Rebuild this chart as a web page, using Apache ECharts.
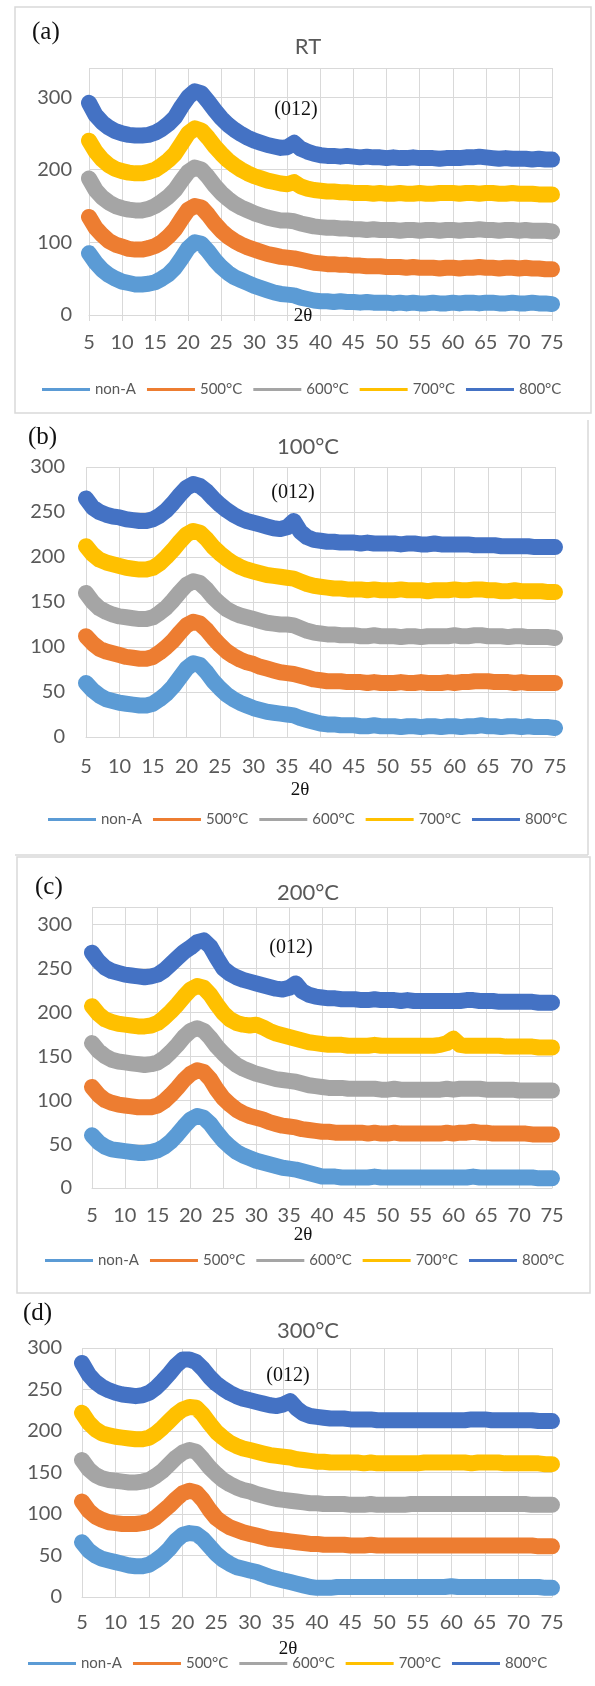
<!DOCTYPE html>
<html>
<head>
<meta charset="utf-8">
<script src="https://cdn.jsdelivr.net/npm/echarts@6/dist/echarts.min.js"></script>
<style>
  html, body { margin: 0; padding: 0; background: #ffffff; }
  #chart { width: 595px; height: 1686px; }
</style>
</head>
<body>
<div id="chart"></div>
<script>
// 2θ positions
const twoTheta = [5, 6, 7, 8, 9, 10, 11, 12, 13, 14, 15, 16, 17, 18, 19, 20, 21, 22, 23, 24, 25, 26, 27, 28, 29, 30,
  31, 32, 33, 34, 35, 36, 37, 38, 39, 40, 41, 42, 43, 44, 45, 46, 47, 48, 49, 50, 51, 52, 53, 54, 55,
  56, 57, 58, 59, 60, 61, 62, 63, 64, 65, 66, 67, 68, 69, 70, 71, 72, 73, 74, 75];

const seriesNames = ['non-A', '500°C', '600°C', '700°C', '800°C'];
const panelTitles = ['RT', '100°C', '200°C', '300°C'];
const panelLetters = ['(a)', '(b)', '(c)', '(d)'];
const yMaxes = [340, 300, 320, 300];
const yIntervals = [100, 50, 50, 50];

// (a) RT
const rtNonA = [85, 72, 62, 55, 50, 46, 44, 42, 42, 43, 45, 50, 56, 65, 78, 92, 100, 98, 88, 76, 66, 58, 52, 48, 44, 40,
  37, 34, 31, 29, 28, 27, 24, 22, 20, 19, 19, 18, 19, 18, 18, 17, 18, 17, 17, 17, 16, 17, 16, 17, 16,
  16, 17, 16, 16, 17, 16, 17, 17, 16, 17, 17, 16, 16, 17, 16, 16, 17, 16, 16, 15];
const rt500 = [135, 120, 110, 102, 97, 94, 91, 90, 90, 92, 95, 100, 108, 118, 132, 145, 150, 148, 138, 126, 116, 108, 102, 97, 93, 90,
  87, 84, 82, 80, 79, 78, 76, 74, 72, 71, 70, 70, 69, 69, 68, 68, 67, 67, 67, 66, 66, 66, 65, 66, 65,
  65, 65, 64, 65, 65, 64, 65, 65, 66, 65, 65, 64, 65, 65, 64, 65, 64, 64, 63, 63];
const rt600 = [188, 172, 162, 155, 150, 147, 145, 144, 144, 146, 150, 156, 163, 172, 185, 197, 203, 200, 190, 178, 168, 160, 153, 148, 144, 140,
  137, 134, 132, 130, 130, 129, 126, 124, 122, 121, 120, 120, 119, 119, 118, 118, 117, 118, 117, 117, 117, 116, 117, 117, 116,
  117, 117, 116, 117, 117, 116, 117, 117, 118, 117, 117, 116, 117, 117, 116, 117, 116, 116, 116, 115];
const rt700 = [240, 225, 214, 206, 201, 198, 196, 195, 195, 197, 200, 206, 213, 222, 236, 250, 257, 254, 244, 232, 222, 213, 206, 200, 195, 191,
  188, 185, 183, 181, 180, 183, 177, 174, 172, 171, 170, 170, 169, 169, 168, 168, 168, 167, 168, 167, 167, 168, 167, 167, 168,
  167, 167, 168, 168, 168, 167, 168, 168, 167, 168, 168, 167, 167, 168, 167, 167, 167, 166, 166, 166];
const rt800 = [292, 275, 265, 258, 253, 250, 248, 247, 247, 248, 251, 256, 263, 272, 287, 300, 308, 305, 294, 282, 271, 262, 255, 249, 244, 240,
  237, 234, 232, 230, 231, 237, 229, 225, 222, 220, 219, 219, 218, 219, 218, 217, 218, 217, 217, 216, 217, 216, 216, 217, 216,
  216, 216, 215, 216, 216, 216, 217, 217, 218, 217, 216, 215, 216, 215, 215, 215, 214, 215, 214, 214];

// (b) 100°C
const t100NonA = [60, 52, 46, 42, 40, 38, 37, 36, 35, 35, 37, 42, 48, 56, 66, 76, 82, 80, 72, 62, 54, 47, 42, 38, 35, 32,
  30, 28, 27, 26, 25, 24, 21, 19, 17, 15, 14, 14, 13, 13, 13, 12, 12, 13, 12, 12, 12, 11, 12, 12, 11,
  12, 12, 11, 12, 12, 11, 12, 12, 13, 12, 12, 11, 12, 12, 11, 12, 11, 11, 11, 10];
const t100_500 = [112, 104, 98, 95, 93, 91, 89, 88, 87, 87, 89, 94, 100, 107, 116, 124, 128, 126, 119, 110, 102, 95, 90, 86, 83, 81,
  78, 76, 74, 72, 71, 70, 68, 66, 64, 63, 62, 62, 62, 61, 61, 61, 60, 61, 60, 60, 60, 61, 60, 60, 61,
  60, 60, 60, 61, 60, 61, 61, 62, 62, 62, 61, 61, 61, 60, 61, 60, 60, 60, 60, 60];
const t100_600 = [160, 150, 143, 139, 136, 134, 133, 132, 131, 131, 133, 138, 144, 152, 161, 169, 173, 171, 164, 155, 148, 142, 138, 135, 133, 131,
  129, 127, 126, 125, 125, 124, 121, 118, 116, 115, 114, 114, 113, 113, 113, 112, 112, 113, 112, 112, 112, 111, 112, 112, 111,
  112, 112, 112, 112, 113, 112, 112, 113, 113, 112, 112, 112, 111, 112, 112, 111, 111, 111, 111, 110];
const t100_700 = [212, 203, 197, 194, 192, 190, 188, 187, 186, 186, 188, 193, 200, 208, 217, 225, 229, 227, 220, 211, 204, 198, 193, 189, 186, 184,
  182, 180, 179, 178, 177, 176, 173, 170, 168, 167, 166, 165, 165, 164, 164, 164, 163, 164, 163, 163, 163, 164, 163, 163, 163,
  162, 163, 163, 163, 164, 163, 163, 164, 164, 163, 163, 162, 162, 163, 162, 162, 162, 162, 161, 161];
const t100_800 = [265, 255, 250, 247, 245, 244, 242, 241, 240, 240, 242, 246, 252, 260, 269, 277, 281, 279, 273, 265, 258, 252, 247, 243, 240, 238,
  236, 234, 232, 231, 233, 240, 228, 222, 219, 218, 217, 217, 216, 216, 216, 215, 216, 215, 215, 215, 215, 214, 215, 215, 214,
  214, 215, 214, 214, 214, 214, 214, 213, 213, 213, 213, 212, 212, 212, 212, 212, 211, 211, 211, 211];

// (c) 200°C
const t200NonA = [60, 52, 47, 44, 43, 42, 41, 40, 40, 41, 43, 47, 53, 61, 70, 78, 82, 80, 73, 63, 54, 47, 41, 37, 34, 31,
  29, 27, 25, 23, 22, 21, 19, 17, 15, 13, 13, 13, 12, 12, 12, 12, 12, 13, 12, 12, 12, 12, 12, 12, 12,
  12, 12, 12, 12, 12, 12, 12, 13, 12, 12, 12, 12, 12, 12, 12, 12, 12, 11, 11, 11];
const t200_500 = [115, 106, 100, 97, 95, 94, 93, 92, 92, 92, 94, 99, 106, 114, 123, 130, 134, 132, 124, 112, 102, 95, 89, 85, 82, 80,
  78, 75, 73, 71, 70, 69, 67, 66, 65, 64, 64, 63, 63, 63, 63, 63, 62, 63, 62, 62, 63, 62, 62, 62, 62,
  62, 62, 62, 63, 62, 63, 63, 64, 63, 63, 62, 62, 62, 62, 62, 62, 61, 61, 61, 61];
const t200_600 = [165, 156, 150, 146, 144, 143, 142, 141, 140, 141, 143, 148, 155, 163, 172, 179, 182, 179, 171, 161, 153, 146, 140, 136, 133, 130,
  128, 126, 124, 123, 122, 121, 119, 117, 116, 115, 114, 114, 114, 113, 113, 113, 113, 113, 112, 112, 113, 112, 112, 112, 112,
  112, 112, 112, 113, 112, 113, 113, 113, 113, 112, 112, 112, 112, 112, 111, 111, 111, 111, 111, 111];
const t200_700 = [207, 198, 192, 189, 187, 186, 185, 184, 184, 185, 188, 194, 201, 209, 218, 226, 230, 228, 220, 209, 199, 192, 188, 186, 185, 186,
  183, 179, 176, 174, 172, 170, 168, 166, 165, 164, 163, 163, 163, 162, 162, 162, 162, 163, 162, 162, 162, 162, 162, 162, 162,
  162, 162, 163, 165, 170, 163, 162, 162, 162, 162, 162, 162, 161, 161, 161, 161, 161, 160, 160, 160];
const t200_800 = [268, 258, 251, 247, 245, 243, 242, 241, 240, 241, 243, 248, 255, 262, 269, 274, 280, 282, 275, 262, 250, 244, 240, 237, 235, 233,
  231, 229, 227, 226, 228, 233, 224, 220, 218, 217, 216, 216, 215, 215, 215, 214, 214, 215, 214, 214, 214, 213, 214, 213, 213,
  213, 213, 213, 213, 213, 213, 214, 214, 213, 213, 213, 212, 212, 212, 212, 212, 212, 211, 211, 211];

// (d) 300°C
const t300NonA = [66, 56, 50, 46, 44, 42, 40, 38, 37, 37, 39, 44, 50, 58, 68, 75, 77, 76, 70, 61, 52, 45, 40, 36, 34, 32,
  30, 27, 24, 22, 20, 18, 16, 14, 12, 11, 11, 11, 12, 12, 12, 12, 12, 12, 12, 12, 12, 12, 12, 12, 12,
  12, 12, 12, 12, 13, 12, 12, 12, 12, 12, 12, 12, 12, 12, 12, 12, 12, 12, 11, 11];
const t300_500 = [115, 104, 97, 93, 90, 89, 88, 88, 88, 89, 91, 96, 103, 110, 118, 125, 128, 126, 117, 105, 95, 89, 84, 81, 78, 76,
  74, 72, 70, 69, 68, 67, 66, 65, 64, 64, 63, 63, 63, 63, 62, 62, 62, 63, 62, 62, 62, 62, 62, 62, 62,
  62, 62, 62, 62, 62, 62, 62, 62, 62, 62, 62, 62, 62, 62, 62, 62, 62, 61, 61, 61];
const t300_600 = [165, 154, 147, 143, 141, 140, 139, 138, 138, 139, 141, 146, 152, 160, 168, 174, 177, 175, 166, 156, 148, 141, 136, 132, 129, 127,
  124, 122, 120, 118, 117, 116, 115, 114, 113, 113, 112, 112, 112, 112, 111, 111, 111, 112, 111, 111, 111, 111, 111, 112, 112,
  112, 112, 112, 112, 112, 112, 112, 112, 112, 112, 112, 112, 112, 112, 112, 112, 111, 111, 111, 111];
const t300_700 = [222, 210, 202, 197, 195, 193, 192, 191, 190, 190, 192, 197, 204, 212, 220, 226, 229, 228, 220, 209, 199, 192, 186, 182, 179, 177,
  175, 173, 171, 170, 169, 168, 166, 165, 164, 163, 163, 162, 162, 162, 162, 162, 161, 162, 161, 161, 161, 161, 161, 161, 161,
  162, 162, 162, 162, 162, 162, 162, 161, 162, 162, 162, 162, 161, 161, 161, 161, 161, 161, 160, 160];
const t300_800 = [282, 268, 259, 253, 249, 246, 244, 243, 242, 243, 246, 252, 260, 269, 279, 286, 286, 283, 275, 265, 257, 251, 246, 242, 239, 237,
  235, 233, 231, 230, 232, 236, 227, 221, 218, 217, 216, 215, 215, 215, 214, 214, 214, 214, 213, 213, 213, 213, 213, 213, 213,
  213, 213, 213, 213, 213, 213, 213, 214, 214, 214, 213, 213, 213, 213, 213, 213, 213, 212, 212, 212];

const panelData = [
  [rtNonA, rt500, rt600, rt700, rt800],
  [t100NonA, t100_500, t100_600, t100_700, t100_800],
  [t200NonA, t200_500, t200_600, t200_700, t200_800],
  [t300NonA, t300_500, t300_600, t300_700, t300_800],
];

const colors = ['#5B9BD5', '#ED7D31', '#A5A5A5', '#FFC000', '#4472C4'];
const gridColor = '#D9D9D9';
const labelColor = '#595959';
const sansFont = 'Lato, "Open Sans", sans-serif';
const serifFont = '"Liberation Serif", "DejaVu Serif", serif';

// 每个面板的位置
const grids = [
  { left: 89, top: 68, width: 463, height: 247 },
  { left: 86, top: 467, width: 469, height: 270 },
  { left: 92, top: 907, width: 460, height: 281 },
  { left: 82, top: 1348, width: 470, height: 249 },
];
const xLabelMargins = [18, 20, 18, 16];
const yLabelMargins = [17, 21, 20, 20];
const titleCenters = [47, 447, 893, 1331];
const letterPos = [[32, 32], [28, 437], [35, 887], [23, 1313]];
const peakLabelPos = [[296, 110], [293, 493], [291, 948], [288, 1376]];
const thetaLabelPos = [[303, 316], [300, 790], [303, 1235], [288, 1649]];
const legendPos = [[37, 390], [43, 820], [40, 1261], [23, 1664]];

const chart = echarts.init(document.getElementById('chart'));

const option = {
  backgroundColor: '#ffffff',
  animation: false,
  color: colors,
  title: panelTitles.map((t, i) => ({
    text: t,
    left: 303,
    top: titleCenters[i] - 16,
    textAlign: 'center',
    textStyle: { color: labelColor, fontFamily: sansFont, fontSize: 22, fontWeight: 'normal' },
  })),
  grid: grids,
  legend: legendPos.map((p) => ({
    data: seriesNames,
    left: p[0],
    top: p[1] - 13,
    width: 570,
    icon: 'rect',
    itemWidth: 48,
    itemHeight: 3,
    itemGap: 11,
    textStyle: { color: labelColor, fontFamily: sansFont, fontSize: 15 },
  })),
  xAxis: grids.map((g, i) => ({
    type: 'value',
    gridIndex: i,
    min: 5,
    max: 75,
    interval: 5,
    axisLine: { show: true, lineStyle: { color: gridColor } },
    axisTick: { show: i === 0, length: 6, lineStyle: { color: gridColor } },
    axisLabel: { color: labelColor, fontFamily: sansFont, fontSize: 20, margin: xLabelMargins[i] },
    splitLine: { show: true, lineStyle: { color: gridColor } },
  })),
  yAxis: grids.map((g, i) => ({
    type: 'value',
    gridIndex: i,
    min: 0,
    max: yMaxes[i],
    interval: yIntervals[i],
    axisLine: { show: false },
    axisTick: { show: false },
    axisLabel: {
      color: labelColor,
      fontFamily: sansFont,
      fontSize: 20,
      margin: yLabelMargins[i],
      showMaxLabel: yMaxes[i] % yIntervals[i] === 0,
    },
    splitLine: { show: true, lineStyle: { color: gridColor } },
  })),
  series: [],
  graphic: [],
};

panelData.forEach((group, p) => {
  group.forEach((vals, k) => {
    option.series.push({
      name: seriesNames[k],
      type: 'line',
      xAxisIndex: p,
      yAxisIndex: p,
      showSymbol: false,
      data: twoTheta.map((x, j) => [x, vals[j]]),
      lineStyle: { color: colors[k], width: 16, cap: 'round', join: 'round' },
      itemStyle: { color: colors[k] },
    });
  });
});

// 面板边框
option.graphic.push(
  { type: 'rect', shape: { x: 15, y: 7, width: 576, height: 406 }, style: { fill: 'none', stroke: gridColor, lineWidth: 1.5 } },
  { type: 'line', shape: { x1: 588, y1: 420, x2: 588, y2: 855 }, style: { stroke: gridColor, lineWidth: 1.5 } },
  { type: 'line', shape: { x1: 15, y1: 855, x2: 588, y2: 855 }, style: { stroke: gridColor, lineWidth: 1.5 } },
  { type: 'rect', shape: { x: 17, y: 857, width: 573, height: 436 }, style: { fill: 'none', stroke: gridColor, lineWidth: 1.5 } }
);

panelLetters.forEach((t, i) => {
  option.graphic.push({
    type: 'text',
    x: letterPos[i][0],
    y: letterPos[i][1],
    style: { text: t, fill: '#111111', font: '25px ' + serifFont, verticalAlign: 'middle' },
  });
  option.graphic.push({
    type: 'text',
    x: peakLabelPos[i][0],
    y: peakLabelPos[i][1],
    style: { text: '(012)', fill: '#111111', font: '20px ' + serifFont, align: 'center', verticalAlign: 'middle' },
    z: 10,
  });
  option.graphic.push({
    type: 'text',
    x: thetaLabelPos[i][0],
    y: thetaLabelPos[i][1],
    style: { text: '2θ', fill: '#111111', font: '19px ' + serifFont, align: 'center', verticalAlign: 'middle' },
    z: 10,
  });
});

chart.setOption(option);
</script>
</body>
</html>
